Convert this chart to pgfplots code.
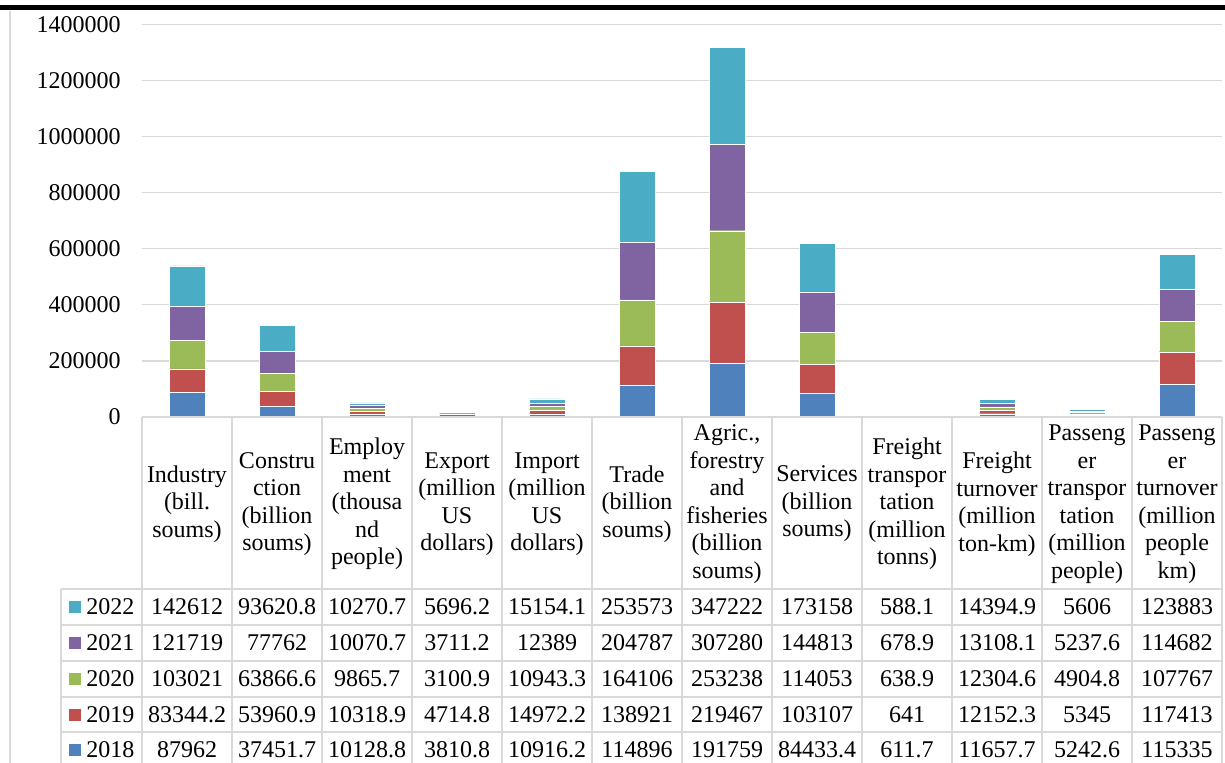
\documentclass[border=0pt]{standalone}
\usepackage{pgfplots}
\usepackage{pgfplotstable}
\pgfplotsset{compat=1.18}
\usepackage{fontspec}
\setmainfont{Liberation Serif}

\definecolor{c18}{HTML}{4F81BD}
\definecolor{c19}{HTML}{C0504D}
\definecolor{c20}{HTML}{9BBB59}
\definecolor{c21}{HTML}{8064A2}
\definecolor{c22}{HTML}{4BACC6}
\definecolor{gridc}{HTML}{D9D9D9}
\newcommand\tf{\fontsize{12}{13.75}\selectfont}

\pgfplotstableread{
x a b c d e
0 87962 83344.2 103021 121719 142612
1 37451.7 53960.9 63866.6 77762 93620.8
2 10128.8 10318.9 9865.7 10070.7 10270.7
3 3810.8 4714.8 3100.9 3711.2 5696.2
4 10916.2 14972.2 10943.3 12389 15154.1
5 114896 138921 164106 204787 253573
6 191759 219467 253238 307280 347222
7 84433.4 103107 114053 144813 173158
8 611.7 641 638.9 678.9 588.1
9 11657.7 12152.3 12304.6 13108.1 14394.9
10 5242.6 5345 4904.8 5237.6 5606
11 115335 117413 107767 114682 123883
}\datatable

\begin{document}
\begin{tikzpicture}
\path[use as bounding box] (0pt,0pt) rectangle (612.5pt,-381.5pt);
% top black rule and left border
\fill[black] (0pt,-2.6pt) rectangle (612.5pt,-5pt);
\draw[gridc, line width=1pt] (5pt,-5.5pt) -- (5pt,-385pt);

\begin{axis}[
  at={(71pt,-208.5pt)}, anchor=south west,
  scale only axis, width=540pt, height=196.25pt,
  xmin=-0.5, xmax=11.5, ymin=0, ymax=1400000,
  ybar stacked, bar width=18pt,
  axis line style={draw=none},
  ymajorgrids, grid style={gridc, line width=0.6pt},
  ytick={0,200000,400000,600000,800000,1000000,1200000,1400000},
  xtick=\empty, major tick length=0pt,
  scaled y ticks=false,
  yticklabel style={inner sep=0pt, xshift=-10.5pt, font=\tf,
    /pgf/number format/.cd, fixed, 1000 sep={}, assume math mode=true},
  clip=false,
]
\addplot[fill=c18, draw=white, line width=0.2pt] table[x=x,y=a]{\datatable};
\addplot[fill=c19, draw=white, line width=0.2pt] table[x=x,y=b]{\datatable};
\addplot[fill=c20, draw=white, line width=0.2pt] table[x=x,y=c]{\datatable};
\addplot[fill=c21, draw=white, line width=0.2pt] table[x=x,y=d]{\datatable};
\addplot[fill=c22, draw=white, line width=0.2pt] table[x=x,y=e]{\datatable};
\end{axis}

\begin{scope}[x=1pt,y=1pt]
% table grid
\foreach \i in {0,...,12} {
  \draw[gridc, line width=1pt] ({71+45*\i},-208.5) -- ({71+45*\i},-385);
}
\draw[gridc, line width=1pt] (30.5,-294.5) -- (30.5,-385);
\draw[gridc, line width=1pt] (71,-208.5) -- (611,-208.5);
\foreach \yy in {-294.5,-312.5,-330.5,-348.5,-366} {
  \draw[gridc, line width=1pt] (30.5,\yy) -- (611,\yy);
}
% header labels
\tikzset{hdr/.style={font=\tf, align=center, inner sep=0pt}}
\node[hdr] at (93.5,-252) {Industry\\(bill.\\soums)};
\node[hdr] at (138.5,-252) {Constru\\ction\\(billion\\soums)};
\node[hdr] at (183.5,-252) {Employ\\ment\\(thousa\\nd\\people)};
\node[hdr] at (228.5,-252) {Export\\(million\\US\\dollars)};
\node[hdr] at (273.5,-252) {Import\\(million\\US\\dollars)};
\node[hdr] at (318.5,-252) {Trade\\(billion\\soums)};
\node[hdr] at (363.5,-252) {Agric.,\\forestry\\and\\fisheries\\(billion\\soums)};
\node[hdr] at (408.5,-252) {Services\\(billion\\soums)};
\node[hdr] at (453.5,-252) {Freight\\transpor\\tation\\(million\\tonns)};
\node[hdr] at (498.5,-252) {Freight\\turnover\\(million\\ton-km)};
\node[hdr] at (543.5,-252) {Passeng\\er\\transpor\\tation\\(million\\people)};
\node[hdr] at (588.5,-252) {Passeng\\er\\turnover\\(million\\people\\km)};
% legend cells
\foreach \yy/\cc/\yr in {-303.5/c22/2022,-321.5/c21/2021,-339.5/c20/2020,-357.25/c19/2019,-375/c18/2018} {
  \fill[\cc] (34.5,{\yy-3}) rectangle (40.5,{\yy+3});
  \node[font=\tf, anchor=west, inner sep=0pt] at (43,\yy) {\yr};
}
% values
\foreach \i in {0,...,11} {
  \foreach \c/\yy in {e/-303.5,d/-321.5,c/-339.5,b/-357.25,a/-375} {
    \pgfplotstablegetelem{\i}{\c}\of\datatable
    \node[font=\tf, inner sep=0pt] at ({93.5+45*\i},\yy) {\pgfplotsretval};
  }
}
\end{scope}
\end{tikzpicture}
\end{document}
